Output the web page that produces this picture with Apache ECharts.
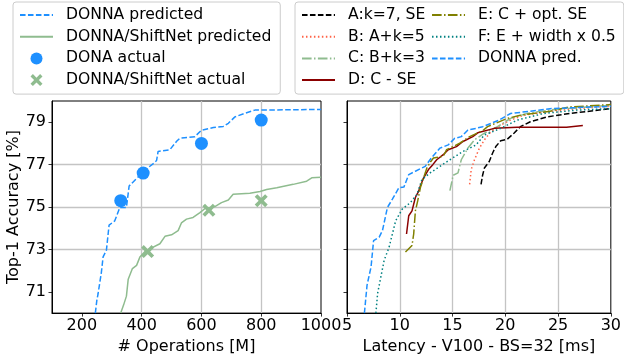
<!DOCTYPE html>
<html>
<head>
<meta charset="utf-8">
<script src="https://cdn.jsdelivr.net/npm/echarts@6/dist/echarts.min.js"></script>
<style>
html,body{margin:0;padding:0;background:#fff;}
#chart{width:624px;height:360px;}
</style>
</head>
<body>
<div id="chart"></div>
<script>
// ---------- data ----------
const yTicks = [71, 73, 75, 77, 79];
const opsTicks = [200, 400, 600, 800, 1000];
const latTicks = [5, 10, 15, 20, 25, 30];

// left panel: # operations [M] vs top-1 accuracy
const donnaPredOps = [[245,70],[250,70.6],[254,70.9],[265,71.9],[271,72.65],[282,72.96],[291,74.15],[310,74.35],[327,74.98],[349,74.98],[358,75.99],[383,76.35],[416,76.8],[444,77.1],[450,77.2],[455,77.62],[494,77.7],[517,78.1],[528,78.25],[578,78.32],[600,78.62],[640,78.75],[673,78.8],[690,78.95],[712,79.25],[745,79.42],[779,79.57],[1000,79.6]];
const shiftPredOps = [[330,70],[340,70.4],[349,70.8],[355,71.6],[369,72.1],[383,72.25],[394,72.64],[411,72.9],[427,73.03],[461,73.27],[478,73.62],[500,73.69],[522,73.89],[533,74.25],[550,74.43],[572,74.51],[595,74.74],[612,74.93],[645,75.02],[667,75.21],[690,75.33],[706,75.6],[762,75.65],[796,75.73],[818,75.83],[852,75.91],[907,76.07],[952,76.22],[969,76.38],[1000,76.4]];
const donnaActualOps = [[330,75.3],[405,76.6],[600,78.0],[800,79.1]];
const shiftActualOps = [[420,72.9],[625,74.85],[800,75.3]];

// right panel: latency [ms] vs top-1 accuracy
const latA = [[17.7,76.07],[17.85,76.5],[18.02,76.84],[18.48,77.15],[18.8,77.55],[19.1,77.85],[19.57,78.13],[20.19,78.2],[20.82,78.48],[21.43,78.79],[22.37,79.02],[23.93,79.25],[26.1,79.41],[27.97,79.52],[30,79.64]];
const latB = [[16.62,76.07],[16.77,76.77],[17.08,77.23],[17.55,77.78],[18.02,78.17],[18.63,78.55],[19.57,78.87],[20.5,79.1],[21.75,79.33],[23.93,79.49],[26.73,79.64],[30,79.75]];
const latC = [[14.75,75.77],[15.06,76.5],[15.52,76.61],[15.83,77.23],[16.46,77.78],[17.08,78.17],[18.02,78.48],[19.26,78.79],[20.5,79.18],[22.06,79.41],[24.55,79.6],[30,79.8]];
const latD = [[10.64,73.73],[10.85,74.59],[11.16,74.82],[11.48,75.45],[11.79,75.75],[11.95,75.99],[12.26,76.38],[12.72,76.77],[13.13,77.0],[13.5,77.23],[14.12,77.47],[14.59,77.7],[15.37,77.85],[15.99,78.09],[16.92,78.32],[17.39,78.5],[18.95,78.71],[21.13,78.76],[25.8,78.76],[27.35,78.84]];
const latE = [[10.54,72.88],[11.16,73.19],[11.32,73.73],[11.48,74.82],[11.7,75.29],[11.95,75.91],[12.26,76.38],[12.57,76.84],[12.94,77.15],[13.19,77.31],[14.12,77.39],[14.43,77.7],[15.68,78.01],[16.62,78.32],[17.86,78.6],[18.32,78.79],[20.19,79.18],[21.43,79.33],[24.24,79.52],[26.1,79.72],[30,79.83]];
const latF = [[7.74,70],[7.9,70.93],[8.21,71.71],[8.52,72.49],[8.99,73.11],[9.3,73.73],[9.61,74.35],[10.23,74.9],[11.01,75.21],[11.63,75.6],[12.1,76.3],[12.88,76.61],[13.81,76.92],[14.75,77.23],[15.99,77.62],[17.23,77.93],[18.02,78.4],[19.57,78.71],[21.13,79.1],[23.62,79.41],[26.73,79.57],[30,79.64]];
const latDonna = [[6.65,70],[6.9,71.32],[7.28,72.18],[7.52,73.42],[8.05,73.58],[8.36,73.89],[8.83,74.98],[9.3,75.37],[9.92,75.91],[10.39,75.94],[10.85,76.53],[11.48,76.69],[12.41,76.92],[13.03,77.34],[13.81,77.78],[14.59,77.93],[15.21,78.24],[15.83,78.32],[16.46,78.63],[17.23,78.71],[17.86,78.79],[19.42,79.1],[20.5,79.41],[22.37,79.52],[24.24,79.64],[30,79.75]];

const leftNames = ['DONNA predicted', 'DONNA/ShiftNet predicted', 'DONA actual', 'DONNA/ShiftNet actual'];
const rightNames = ['A:k=7, SE', 'B: A+k=5', 'C: B+k=3', 'D: C - SE', 'E: C + opt. SE', 'F: E + width x 0.5', 'DONNA pred.'];

// ---------- styles ----------
const FONT = 'DejaVu Sans';
const DASH = [5.55, 2.4];
const DOT = [1.5, 2.475];
const DASHDOT = [9.6, 2.4, 1.5, 2.4];
const XMARK = 'path://M2,0 L5,3 L8,0 L10,2 L7,5 L10,8 L8,10 L5,7 L2,10 L0,8 L3,5 L0,2 Z';

function lineSeries(name, data, color, type, xi) {
  return {
    name: name, type: 'line', xAxisIndex: xi, yAxisIndex: xi, data: data,
    symbol: 'none', smooth: false, clip: true, animation: false,
    lineStyle: { color: color, width: 1.5, type: type, cap: 'butt' },
    itemStyle: { color: color }
  };
}

const axisCommonY = (showLabel) => ({
  type: 'value', min: 70, max: 80,
  axisLine: { show: true, lineStyle: { color: '#000', width: 1 } },
  axisTick: { show: true, length: 3.5, lineStyle: { color: '#000', width: 0.8 }, customValues: yTicks },
  axisLabel: { show: showLabel, color: '#000', fontFamily: FONT, fontSize: 16, margin: 6, customValues: yTicks },
  splitLine: { show: true, showMinLine: false, showMaxLine: false, lineStyle: { color: '#c4c4c4', width: 1.3 } }
});

const chart = echarts.init(document.getElementById('chart'), null, { renderer: 'canvas', devicePixelRatio: 1 });

const legendBase = {
  orient: 'vertical', selectedMode: false,
  itemWidth: 33, itemHeight: 12, itemGap: 5.7,
  backgroundColor: 'rgba(255,255,255,0.8)', borderColor: '#cccccc', borderWidth: 1, borderRadius: 3,
  itemStyle: { opacity: 0 },
  textStyle: { color: '#000', fontFamily: FONT, fontSize: 15.6, padding: [0, 4, 0, 8] }
};
// scatter entries keep their marker in the legend; line entries show only the line
function legendItems(names, scatterNames) {
  return names.map(n => scatterNames.indexOf(n) >= 0 ? { name: n, itemStyle: { opacity: 1 } } : { name: n });
}

chart.setOption({
  animation: false,
  backgroundColor: '#fff',
  textStyle: { fontFamily: FONT },
  legend: [
    Object.assign({}, legendBase, { data: legendItems(leftNames, [leftNames[2], leftNames[3]]), left: 13, top: 2, padding: [5, 9, 6, 6] }),
    Object.assign({}, legendBase, { data: legendItems(rightNames, []), left: 295, top: 2, height: 84, padding: [5, 8, 6, 6] })
  ],
  grid: [
    { left: 52, top: 101, width: 269, height: 214, show: true, borderColor: '#000', borderWidth: 1, backgroundColor: 'transparent' },
    { left: 347, top: 101, width: 268, height: 214, show: true, borderColor: '#000', borderWidth: 1, backgroundColor: 'transparent' }
  ],
  xAxis: [
    {
      gridIndex: 0, type: 'value', min: 100, max: 1000,
      name: '# Operations [M]', nameLocation: 'middle', nameGap: 22,
      nameTextStyle: { color: '#000', fontFamily: FONT, fontSize: 16 },
      axisLine: { show: true, lineStyle: { color: '#000', width: 1 } },
      axisTick: { show: true, length: 3.5, lineStyle: { color: '#000', width: 0.8 }, customValues: opsTicks },
      axisLabel: { color: '#000', fontFamily: FONT, fontSize: 16, margin: 5, customValues: opsTicks, formatter: v => String(v) },
      splitLine: { show: true, showMinLine: false, showMaxLine: false, lineStyle: { color: '#c4c4c4', width: 1.3 } }
    },
    {
      gridIndex: 1, type: 'value', min: 5, max: 30, interval: 5,
      name: 'Latency - V100 - BS=32 [ms]', nameLocation: 'middle', nameGap: 22,
      nameTextStyle: { color: '#000', fontFamily: FONT, fontSize: 16 },
      axisLine: { show: true, lineStyle: { color: '#000', width: 1 } },
      axisTick: { show: true, length: 3.5, lineStyle: { color: '#000', width: 0.8 }, customValues: latTicks },
      axisLabel: { color: '#000', fontFamily: FONT, fontSize: 16, margin: 5, customValues: latTicks, formatter: v => String(v) },
      splitLine: { show: true, showMinLine: false, showMaxLine: false, lineStyle: { color: '#c4c4c4', width: 1.3 } }
    }
  ],
  yAxis: [
    Object.assign(axisCommonY(true), {
      gridIndex: 0, name: 'Top-1 Accuracy [%]', nameLocation: 'middle', nameGap: 29, nameRotate: 90,
      nameTextStyle: { color: '#000', fontFamily: FONT, fontSize: 16 }
    }),
    Object.assign(axisCommonY(false), { gridIndex: 1 })
  ],
  series: [
    lineSeries(leftNames[0], donnaPredOps, '#1e90ff', DASH, 0),
    lineSeries(leftNames[1], shiftPredOps, '#8fbc8f', 'solid', 0),
    {
      name: leftNames[2], type: 'scatter', xAxisIndex: 0, yAxisIndex: 0, data: donnaActualOps,
      symbol: 'circle', symbolSize: 13, itemStyle: { color: '#1e90ff', opacity: 1 }
    },
    {
      name: leftNames[3], type: 'scatter', xAxisIndex: 0, yAxisIndex: 0, data: shiftActualOps,
      symbol: XMARK, symbolSize: 13, itemStyle: { color: '#8fbc8f', opacity: 1 }
    },
    lineSeries(rightNames[0], latA, '#000000', DASH, 1),
    lineSeries(rightNames[1], latB, '#ff6347', DOT, 1),
    lineSeries(rightNames[2], latC, '#8fbc8f', DASHDOT, 1),
    lineSeries(rightNames[3], latD, '#8b0000', 'solid', 1),
    lineSeries(rightNames[4], latE, '#808000', DASHDOT, 1),
    lineSeries(rightNames[5], latF, '#008080', DOT, 1),
    lineSeries(rightNames[6], latDonna, '#1e90ff', DASH, 1)
  ]
});
</script>
</body>
</html>
